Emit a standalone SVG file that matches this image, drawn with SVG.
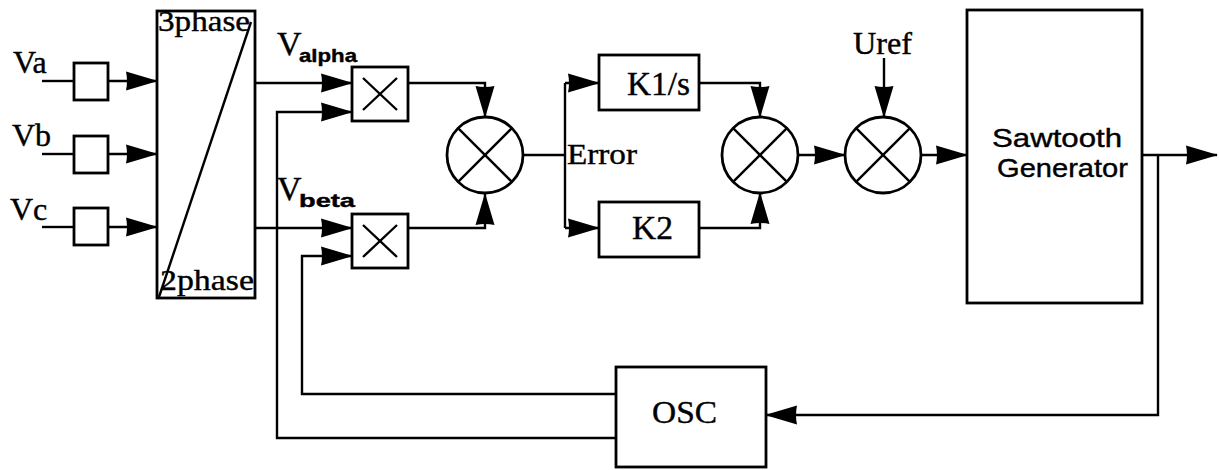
<svg xmlns="http://www.w3.org/2000/svg" width="1219" height="470" viewBox="0 0 1219 470">
  <style>
    .blk { fill: #fff; stroke: #000; stroke-width: 2.8; }
    .ln { fill: none; stroke: #000; stroke-width: 2.4; }
    .arr { fill: none; stroke: #000; stroke-width: 2.4; marker-end: url(#ah); }
    .serif { font-family: "Liberation Serif", "Times New Roman", serif; fill: #000; stroke: #000; stroke-width: 0.4; }
    .sans { font-family: "Liberation Sans", Arial, sans-serif; fill: #000; stroke: #000; stroke-width: 0.4; }
  </style>
  <defs>
    <marker id="ah" viewBox="0 0 32 20" refX="31" refY="10" markerWidth="32" markerHeight="20" markerUnits="userSpaceOnUse" orient="auto">
      <path d="M0,0.5 L32,10 L0,19.5 Q2,10 0,0.5 z" fill="#000"/>
    </marker>
  </defs>
  <rect width="1219" height="470" fill="#fff"/>

  <!-- signal lines -->
  <g id="connectors">
    <!-- phase inputs -->
    <line class="ln" x1="42" y1="81" x2="74" y2="81"/>
    <line class="ln" x1="42" y1="154" x2="74" y2="154"/>
    <line class="ln" x1="42" y1="227" x2="74" y2="227"/>
    <line class="arr" x1="108" y1="81" x2="157" y2="81"/>
    <line class="arr" x1="108" y1="154" x2="157" y2="154"/>
    <line class="arr" x1="108" y1="227" x2="157" y2="227"/>
    <!-- alpha / beta outputs -->
    <line class="arr" x1="255" y1="83" x2="352" y2="83"/>
    <line class="arr" x1="255" y1="228" x2="352" y2="228"/>
    <!-- oscillator feedback to multipliers -->
    <polyline class="arr" points="616,438 277,438 277,112 352,112"/>
    <polyline class="arr" points="616,394 302,394 302,256 352,256"/>
    <!-- products into first summer -->
    <polyline class="arr" points="408,83 485,83 485,117"/>
    <polyline class="arr" points="408,228 485,228 485,194"/>
    <!-- error branch -->
    <line class="ln" x1="524" y1="155" x2="565" y2="155"/>
    <line class="ln" x1="565" y1="83" x2="565" y2="228"/>
    <line class="arr" x1="565" y1="83" x2="599" y2="83"/>
    <line class="arr" x1="565" y1="228" x2="599" y2="228"/>
    <!-- PI outputs into second summer -->
    <polyline class="arr" points="699,83 760,83 760,117"/>
    <polyline class="arr" points="699,228 760,228 760,193"/>
    <line class="arr" x1="798" y1="155" x2="845" y2="155"/>
    <!-- reference -->
    <line class="arr" x1="884" y1="58" x2="884" y2="117"/>
    <line class="arr" x1="921" y1="155" x2="967" y2="155"/>
    <!-- sawtooth output and feedback -->
    <line class="arr" x1="1142" y1="155" x2="1217" y2="155"/>
    <polyline class="arr" points="1158,155 1158,415 766,415"/>
  </g>

  <g id="in-a">
    <text class="serif" x="13" y="73" font-size="32">Va</text>
    <rect class="blk" x="74" y="63" width="34" height="37"/>
  </g>
  <g id="in-b">
    <text class="serif" x="12" y="146" font-size="32">Vb</text>
    <rect class="blk" x="74" y="136" width="34" height="37"/>
  </g>
  <g id="in-c">
    <text class="serif" x="10" y="220" font-size="32">Vc</text>
    <rect class="blk" x="74" y="208" width="34" height="37"/>
  </g>

  <g id="transform">
    <rect class="blk" x="157" y="11" width="98" height="287"/>
    <line class="ln" x1="159" y1="297" x2="251" y2="22"/>
    <text class="serif" x="158" y="31" font-size="30" textLength="92" lengthAdjust="spacingAndGlyphs">3phase</text>
    <text class="serif" x="160" y="290" font-size="30" textLength="94" lengthAdjust="spacingAndGlyphs">2phase</text>
  </g>

  <g id="label-alpha">
    <text class="serif" x="277" y="55" font-size="34">V</text>
    <text class="sans" x="299" y="62" font-size="19" font-weight="bold" textLength="58" lengthAdjust="spacingAndGlyphs">alpha</text>
  </g>
  <g id="label-beta">
    <text class="serif" x="277" y="200" font-size="34">V</text>
    <text class="sans" x="299" y="207" font-size="19" font-weight="bold" textLength="56" lengthAdjust="spacingAndGlyphs">beta</text>
  </g>

  <g id="mult-alpha">
    <rect class="blk" x="352" y="67" width="56" height="54"/>
    <line class="ln" x1="363" y1="78" x2="397" y2="110"/>
    <line class="ln" x1="397" y1="78" x2="363" y2="110"/>
  </g>
  <g id="mult-beta">
    <rect class="blk" x="352" y="214" width="56" height="54"/>
    <line class="ln" x1="363" y1="225" x2="397" y2="257"/>
    <line class="ln" x1="397" y1="225" x2="363" y2="257"/>
  </g>

  <g id="sum-1">
    <circle class="blk" cx="485" cy="155" r="38"/>
    <line class="ln" x1="458.1" y1="128.1" x2="511.9" y2="181.9"/>
    <line class="ln" x1="511.9" y1="128.1" x2="458.1" y2="181.9"/>
  </g>

  <g id="label-error">
    <text class="serif" x="567" y="164" font-size="30" textLength="70" lengthAdjust="spacingAndGlyphs">Error</text>
  </g>

  <g id="gain-k1">
    <rect class="blk" x="599" y="55" width="100" height="55"/>
    <text class="serif" x="627" y="95" font-size="33" textLength="63" lengthAdjust="spacingAndGlyphs">K1/s</text>
  </g>
  <g id="gain-k2">
    <rect class="blk" x="599" y="202" width="100" height="55"/>
    <text class="serif" x="632" y="239" font-size="33" textLength="41" lengthAdjust="spacingAndGlyphs">K2</text>
  </g>

  <g id="sum-2">
    <circle class="blk" cx="760" cy="155" r="38"/>
    <line class="ln" x1="733.1" y1="128.1" x2="786.9" y2="181.9"/>
    <line class="ln" x1="786.9" y1="128.1" x2="733.1" y2="181.9"/>
  </g>

  <g id="sum-3">
    <text class="serif" x="853" y="54" font-size="31" textLength="59" lengthAdjust="spacingAndGlyphs">Uref</text>
    <circle class="blk" cx="883" cy="155" r="38"/>
    <line class="ln" x1="856.1" y1="128.1" x2="909.9" y2="181.9"/>
    <line class="ln" x1="909.9" y1="128.1" x2="856.1" y2="181.9"/>
  </g>

  <g id="sawtooth">
    <rect class="blk" x="967" y="10" width="175" height="293"/>
    <text class="sans" x="992" y="147" font-size="26" textLength="130" lengthAdjust="spacingAndGlyphs">Sawtooth</text>
    <text class="sans" x="997" y="177" font-size="26" textLength="131" lengthAdjust="spacingAndGlyphs">Generator</text>
  </g>

  <g id="osc">
    <rect class="blk" x="616" y="367" width="150" height="100"/>
    <text class="serif" x="652" y="423" font-size="32" textLength="65" lengthAdjust="spacingAndGlyphs">OSC</text>
  </g>
</svg>
